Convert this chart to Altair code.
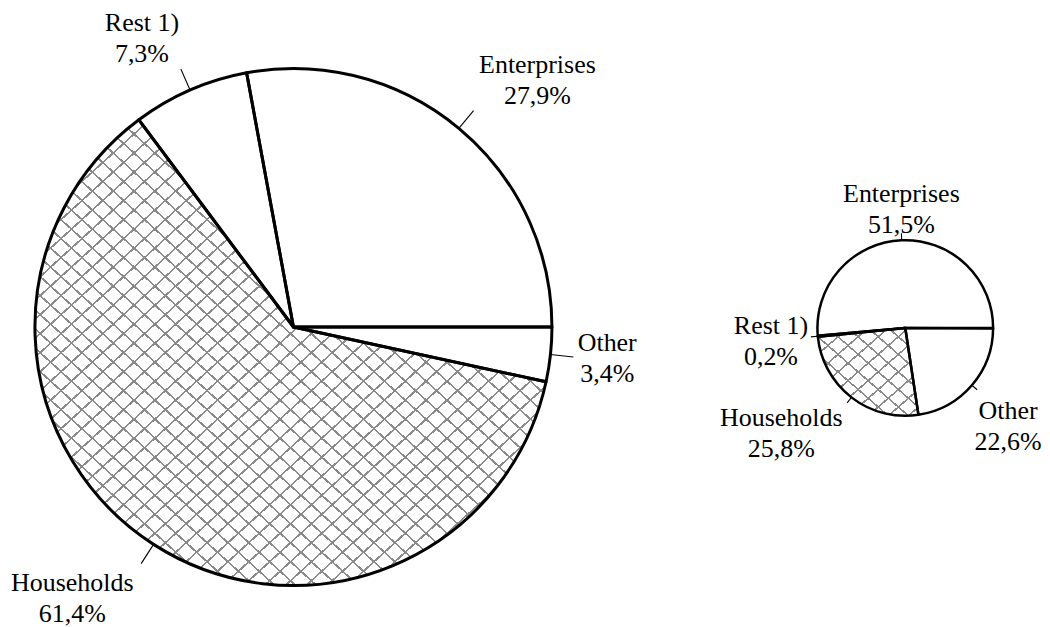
import math
import altair as alt
import pandas as pd

# ---------------- data ----------------
categories = ["Other", "Households", "Rest 1)", "Enterprises"]  # clockwise from 3 o'clock
big_values = [3.4, 61.4, 7.3, 27.9]
small_values = [22.6, 25.8, 0.2, 51.5]

# ---------------- layout (page pixels) ----------------
W, H = 1034, 611
PIES = {
    "big": dict(cx=294, cy=327, r=259, tick=23, sw=3.0, values=big_values, hatch_n=49),
    "small": dict(cx=907, cy=328, r=88, tick=7, sw=2.5, values=small_values, hatch_n=10),
}
# label block centre relative to the outer end of the leader tick (dx, dy of first line)
LABEL_OFFSET = {
    ("big", "Other"): (34, -14),
    ("big", "Households"): (-69, 19),
    ("big", "Rest 1)"): (-39, -46),
    ("big", "Enterprises"): (64, -46),
    ("small", "Enterprises"): (0, -39),
    ("small", "Rest 1)"): (-40, -11),
    ("small", "Households"): (-66, 15),
    ("small", "Other"): (31, 21),
}
LINE_GAP = 31

rows = []
for pie, p in PIES.items():
    cum = 0.0
    for cat, v in zip(categories, p["values"]):
        start, end = cum, cum + v
        cum = end
        mid = (start + end) / 2
        a = math.radians(90 + 3.6 * mid)
        sx, sy = math.sin(a), -math.cos(a)
        x0, y0 = p["cx"] + p["r"] * sx, p["cy"] + p["r"] * sy
        x1, y1 = p["cx"] + (p["r"] + p["tick"]) * sx, p["cy"] + (p["r"] + p["tick"]) * sy
        dx, dy = LABEL_OFFSET[(pie, cat)]
        rows.append(dict(
            pie=pie, cat=cat, value=v, start=start, end=end,
            cx=p["cx"], cy=p["cy"], r=p["r"],
            tx0=x0, ty0=y0, tx1=x1, ty1=y1,
            lx=x1 + dx, ly1=y1 + dy, ly2=y1 + dy + LINE_GAP,
            pct=f"{v:.1f}".replace(".", ",") + "%",
        ))
df = pd.DataFrame(rows)

xs = alt.Scale(domain=[8, 8 + W], range=[0, W])
ys = alt.Scale(domain=[8, 8 + H], range=[0, H])
ts = alt.Scale(domain=[0, 100], range=[math.pi / 2, math.pi / 2 + 2 * math.pi])

base = alt.Chart(df)


def arc_enc():
    return dict(
        x=alt.X("cx:Q", scale=xs, axis=None),
        y=alt.Y("cy:Q", scale=ys, axis=None),
        theta=alt.Theta("start:Q", scale=ts),
        theta2="end:Q",
        radius=alt.Radius("r:Q", scale=None),
    )


def hatch(n, diag):
    col = "#8a8a8a"
    clear = "rgba(255,255,255,0)"
    h = 0.12 / (2 * n)
    stops = []
    for k in range(n):
        c = (k + 0.5) / n
        stops += [
            alt.GradientStop(offset=c - h, color=clear),
            alt.GradientStop(offset=c - h, color=col),
            alt.GradientStop(offset=c + h, color=col),
            alt.GradientStop(offset=c + h, color=clear),
        ]
    if diag:
        return alt.LinearGradient(gradient="linear", stops=stops, x1=0, y1=0, x2=1, y2=1)
    return alt.LinearGradient(gradient="linear", stops=stops, x1=0, y1=1, x2=1, y2=0)


layers = [base.mark_arc(fill="white", strokeWidth=0).encode(**arc_enc())]

for pie, p in PIES.items():
    hh = base.transform_filter(
        (alt.datum.pie == pie) & (alt.datum.cat == "Households")
    )
    layers.append(hh.mark_arc(fill=hatch(p["hatch_n"], True), strokeWidth=0).encode(**arc_enc()))
    layers.append(hh.mark_arc(fill=hatch(p["hatch_n"], False), strokeWidth=0).encode(**arc_enc()))

for pie, p in PIES.items():
    layers.append(
        base.transform_filter(alt.datum.pie == pie)
        .mark_arc(fillOpacity=0, stroke="black", strokeWidth=p["sw"], strokeJoin="round")
        .encode(**arc_enc())
    )

layers.append(
    base.mark_rule(color="black", strokeWidth=1.1).encode(
        x=alt.X("tx0:Q", scale=xs, axis=None),
        y=alt.Y("ty0:Q", scale=ys, axis=None),
        x2="tx1:Q",
        y2="ty1:Q",
    )
)

txt = dict(font="Liberation Serif", fontSize=26, align="center", baseline="middle", color="black")
layers.append(
    base.mark_text(**txt).encode(
        x=alt.X("lx:Q", scale=xs, axis=None),
        y=alt.Y("ly1:Q", scale=ys, axis=None),
        text="cat:N",
    )
)
layers.append(
    base.mark_text(**txt).encode(
        x=alt.X("lx:Q", scale=xs, axis=None),
        y=alt.Y("ly2:Q", scale=ys, axis=None),
        text="pct:N",
    )
)

chart = (
    alt.layer(*layers)
    .properties(width=W, height=H, padding=0, autosize=alt.AutoSizeParams(type="pad"))
    .configure_view(stroke=None)
)

chart.save("out.html", embed_options={"renderer": "svg", "actions": False})
